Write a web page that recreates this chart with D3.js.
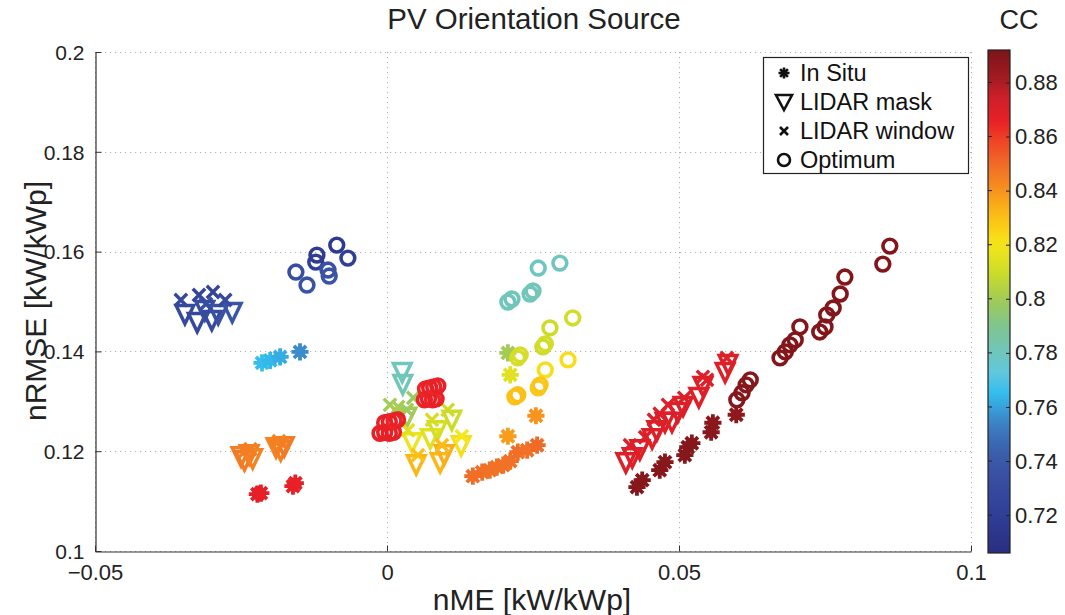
<!DOCTYPE html>
<html>
<head>
<meta charset="utf-8">
<script src="https://cdn.jsdelivr.net/npm/d3@7"></script>
<style>
  html, body { margin: 0; padding: 0; background: #fff; }
  svg { display: block; font-family: "Liberation Sans", Arial, Helvetica, sans-serif; }
</style>
</head>
<body>
<svg id="chart" width="1065" height="615"></svg>
<script>
// Each point: [nME, nRMSE, CC]
const inSitu = [
  [-0.0214, 0.1377, 0.766], [-0.0200, 0.1382, 0.764], [-0.0183, 0.1389, 0.762], [-0.0149, 0.1399, 0.756],
  [-0.0222, 0.1114, 0.866], [-0.0216, 0.1116, 0.866], [-0.0161, 0.1130, 0.865], [-0.0157, 0.1136, 0.865],
  [0.0207, 0.1397, 0.800], [0.0211, 0.1353, 0.815],
  [0.0147, 0.1150, 0.849], [0.0163, 0.1158, 0.849], [0.0176, 0.1162, 0.848], [0.0188, 0.1168, 0.848],
  [0.0199, 0.1172, 0.848], [0.0211, 0.1180, 0.848], [0.0224, 0.1198, 0.849], [0.0240, 0.1202, 0.848],
  [0.0257, 0.1212, 0.850], [0.0207, 0.1230, 0.838], [0.0255, 0.1271, 0.840],
  [0.0428, 0.1128, 0.889], [0.0437, 0.1142, 0.889], [0.0467, 0.1162, 0.889], [0.0476, 0.1178, 0.889],
  [0.0510, 0.1192, 0.889], [0.0515, 0.1208, 0.889], [0.0522, 0.1216, 0.889], [0.0555, 0.1238, 0.888],
  [0.0558, 0.1257, 0.888], [0.0598, 0.1273, 0.887]
];

const lidarMask = [
  [-0.0346, 0.1479, 0.730], [-0.0325, 0.1463, 0.728], [-0.0312, 0.1487, 0.733], [-0.0300, 0.1467, 0.730],
  [-0.0289, 0.1479, 0.735], [-0.0265, 0.1483, 0.738],
  [-0.0250, 0.1194, 0.845], [-0.0244, 0.1186, 0.846], [-0.0236, 0.1198, 0.845], [-0.0230, 0.1190, 0.844],
  [-0.0190, 0.1212, 0.844], [-0.0182, 0.1206, 0.845], [-0.0176, 0.1214, 0.846],
  [0.0026, 0.1363, 0.780], [0.0027, 0.1339, 0.782], [0.0034, 0.1273, 0.800],
  [0.0043, 0.1222, 0.818], [0.0074, 0.1230, 0.815], [0.0086, 0.1246, 0.812], [0.0111, 0.1267, 0.810],
  [0.0127, 0.1216, 0.822],
  [0.0050, 0.1178, 0.832], [0.0091, 0.1182, 0.832], [0.0098, 0.1198, 0.834],
  [0.0409, 0.1182, 0.870], [0.0420, 0.1192, 0.868], [0.0433, 0.1208, 0.869], [0.0454, 0.1230, 0.868],
  [0.0462, 0.1246, 0.870], [0.0476, 0.1263, 0.869], [0.0488, 0.1263, 0.868], [0.0498, 0.1283, 0.870],
  [0.0507, 0.1295, 0.869], [0.0534, 0.1313, 0.868], [0.0541, 0.1335, 0.869], [0.0579, 0.1363, 0.868],
  [0.0584, 0.1379, 0.869]
];

const lidarWindow = [
  [-0.0353, 0.1503, 0.728], [-0.0322, 0.1513, 0.727], [-0.0298, 0.1519, 0.726], [-0.0277, 0.1503, 0.730],
  [-0.0310, 0.1495, 0.732],
  [-0.0243, 0.1200, 0.845], [-0.0234, 0.1204, 0.845], [-0.0185, 0.1220, 0.844], [-0.0178, 0.1216, 0.845],
  [0.0005, 0.1293, 0.800], [0.0019, 0.1289, 0.801], [0.0045, 0.1307, 0.798], [0.0034, 0.1283, 0.799],
  [0.0036, 0.1242, 0.815], [0.0077, 0.1263, 0.812], [0.0104, 0.1283, 0.810], [0.0128, 0.1230, 0.820],
  [0.0053, 0.1192, 0.830], [0.0094, 0.1212, 0.831],
  [0.0416, 0.1212, 0.870], [0.0442, 0.1228, 0.868], [0.0457, 0.1263, 0.869], [0.0467, 0.1275, 0.870],
  [0.0481, 0.1293, 0.868], [0.0509, 0.1307, 0.869], [0.0541, 0.1349, 0.868], [0.0548, 0.1343, 0.869],
  [0.0582, 0.1387, 0.868]
];

const optimum = [
  [-0.0156, 0.1559, 0.733], [-0.0137, 0.1533, 0.737], [-0.0122, 0.1579, 0.722], [-0.0120, 0.1593, 0.718],
  [-0.0101, 0.1563, 0.735], [-0.0099, 0.1551, 0.738], [-0.0086, 0.1613, 0.716], [-0.0067, 0.1587, 0.722],
  [-0.0012, 0.1236, 0.865], [-0.0004, 0.1238, 0.866], [0.0004, 0.1236, 0.865], [0.0011, 0.1238, 0.866],
  [-0.0004, 0.1257, 0.865], [0.0004, 0.1259, 0.865], [0.0012, 0.1261, 0.864], [0.0018, 0.1263, 0.865],
  [0.0064, 0.1303, 0.864], [0.0071, 0.1305, 0.865], [0.0078, 0.1303, 0.864], [0.0084, 0.1305, 0.865],
  [0.0066, 0.1325, 0.864], [0.0073, 0.1327, 0.865], [0.0080, 0.1329, 0.864], [0.0087, 0.1331, 0.865],
  [0.0207, 0.1499, 0.780], [0.0214, 0.1505, 0.781], [0.0245, 0.1515, 0.780], [0.0250, 0.1521, 0.781],
  [0.0259, 0.1567, 0.779], [0.0296, 0.1577, 0.780],
  [0.0279, 0.1447, 0.810], [0.0318, 0.1467, 0.811], [0.0224, 0.1387, 0.812], [0.0228, 0.1393, 0.812],
  [0.0267, 0.1409, 0.810], [0.0271, 0.1415, 0.811],
  [0.0271, 0.1363, 0.822], [0.0310, 0.1383, 0.822],
  [0.0219, 0.1309, 0.830], [0.0224, 0.1313, 0.830], [0.0259, 0.1327, 0.828], [0.0262, 0.1333, 0.829],
  [0.0599, 0.1303, 0.889], [0.0608, 0.1317, 0.889], [0.0615, 0.1333, 0.889], [0.0622, 0.1343, 0.889],
  [0.0673, 0.1387, 0.890], [0.0682, 0.1399, 0.890], [0.0690, 0.1413, 0.890], [0.0699, 0.1423, 0.890],
  [0.0707, 0.1449, 0.890], [0.0741, 0.1439, 0.890], [0.0750, 0.1449, 0.890], [0.0753, 0.1473, 0.890],
  [0.0764, 0.1487, 0.890], [0.0776, 0.1515, 0.890], [0.0784, 0.1549, 0.890], [0.0849, 0.1575, 0.890],
  [0.0861, 0.1611, 0.890]
];

const xTicks = [-0.05, 0, 0.05, 0.1];
const xTickLabels = ["\u22120.05", "0", "0.05", "0.1"];
const yTicks = [0.1, 0.12, 0.14, 0.16, 0.18, 0.2];
const yTickLabels = ["0.1", "0.12", "0.14", "0.16", "0.18", "0.2"];
const ccTicks = [0.72, 0.74, 0.76, 0.78, 0.8, 0.82, 0.84, 0.86, 0.88];
const ccTickLabels = ["0.72", "0.74", "0.76", "0.78", "0.8", "0.82", "0.84", "0.86", "0.88"];
const ccRange = [0.706, 0.892];
const legendNames = ["In Situ", "LIDAR mask", "LIDAR window", "Optimum"];

// colour map stops (CC value -> colour)
const cmapStops = [0.706, 0.72, 0.735, 0.745, 0.755, 0.765, 0.772, 0.78, 0.79, 0.80, 0.81, 0.82, 0.83, 0.84, 0.85, 0.86, 0.865, 0.875, 0.88, 0.892];
const cmapColors = ["#2a2d82", "#2f3e96", "#3a50a2", "#3b62ae", "#3c86c8", "#32bdee", "#5fc7df", "#6fc6bd", "#80c48f", "#a3cb55",
                    "#cddc28", "#f5e71a", "#fcc016", "#f7931e", "#f06a28", "#ee3d26", "#e92027", "#cc1f2a", "#a81c24", "#7b1518"];
const color = d3.scaleLinear().domain(cmapStops).range(cmapColors).interpolate(d3.interpolateRgb).clamp(true);

const svg = d3.select("#chart");
const M = { left: 95, right: 971, top: 52, bottom: 551 };

const x = d3.scaleLinear().domain([-0.05, 0.1]).range([M.left, M.right]);
const y = d3.scaleLinear().domain([0.1, 0.2]).range([M.bottom, M.top]);

// grid
const grid = svg.append("g").attr("stroke", "#b0b0b0").attr("stroke-width", 1).attr("stroke-dasharray", "1.2,3.8");
grid.selectAll("line.gx").data(xTicks).join("line")
  .attr("x1", d => Math.round(x(d)) + 0.5).attr("x2", d => Math.round(x(d)) + 0.5)
  .attr("y1", M.top).attr("y2", M.bottom);
grid.selectAll("line.gy").data(yTicks).join("line")
  .attr("y1", d => Math.round(y(d)) + 0.5).attr("y2", d => Math.round(y(d)) + 0.5)
  .attr("x1", M.left).attr("x2", M.right);

// axes
const xAxis = d3.axisBottom(x).tickValues(xTicks).tickFormat((d, i) => xTickLabels[i]).tickSizeInner(-6).tickSizeOuter(0).tickPadding(10);
const yAxis = d3.axisLeft(y).tickValues(yTicks).tickFormat((d, i) => yTickLabels[i]).tickSizeInner(-6).tickSizeOuter(0).tickPadding(11);

const gx = svg.append("g").attr("transform", `translate(0,${M.bottom + 0.5})`).call(xAxis);
const gy = svg.append("g").attr("transform", `translate(${M.left + 0.5},0)`).call(yAxis);
[gx, gy].forEach(g => {
  g.select(".domain").attr("stroke", "#333").attr("stroke-width", 1.2);
  g.selectAll(".tick line").attr("stroke", "#333");
  g.selectAll(".tick text").attr("fill", "#222").style("font-family", "Liberation Sans, Arial, sans-serif");
});
gx.selectAll(".tick text").attr("dy", "0.85em").style("font-size", "22px");
gy.selectAll(".tick text").attr("dy", "0.35em").style("font-size", "21px");

// marker shapes
function drawAsterisk(g, c) {
  const r = 8.6;
  let p = "";
  for (let k = 0; k < 4; k++) {
    const a = k * Math.PI / 4;
    const dx = r * Math.cos(a), dy = r * Math.sin(a);
    p += `M${-dx},${-dy}L${dx},${dy}`;
  }
  g.append("path").attr("d", p).attr("stroke", c).attr("stroke-width", 3.8).attr("fill", "none");
  g.append("circle").attr("r", 5.6).attr("fill", c);
}
function drawTriangle(g, c) {
  const w = 8.8, h = 7.4;
  g.append("path").attr("d", `M${-w},${-h + 1}L${w},${-h + 1}L0,${h + 4.4}Z`)
    .attr("fill", "none").attr("stroke", c).attr("stroke-width", 3.5).attr("stroke-linejoin", "miter");
}
function drawCross(g, c) {
  const s = 6.2;
  g.append("path").attr("d", `M${-s},${-s}L${s},${s}M${-s},${s}L${s},${-s}`)
    .attr("stroke", c).attr("stroke-width", 3.4).attr("fill", "none");
}
function drawCircle(g, c) {
  g.append("circle").attr("r", 6.9).attr("fill", "none").attr("stroke", c).attr("stroke-width", 3.6);
}
const drawers = [drawAsterisk, drawTriangle, drawCross, drawCircle];
const series = [inSitu, lidarMask, lidarWindow, optimum];

const plot = svg.append("g");
series.forEach((data, si) => {
  plot.append("g").selectAll("g").data(data).join("g")
    .attr("transform", d => `translate(${x(d[0])},${y(d[1])})`)
    .each(function (d) { drawers[si](d3.select(this), color(d[2])); });
});

// legend
const lg = svg.append("g");
lg.append("rect").attr("x", 763.5).attr("y", 57.5).attr("width", 205).attr("height", 116)
  .attr("fill", "#fff").attr("stroke", "#222").attr("stroke-width", 1.2);
legendNames.forEach((name, i) => {
  const cy = 73 + i * 29;
  const g = lg.append("g").attr("transform", `translate(784,${cy})`);
  if (i === 0) {
    const r = 5.5;
    let p = "";
    for (let k = 0; k < 4; k++) {
      const a = k * Math.PI / 4;
      p += `M${-r * Math.cos(a)},${-r * Math.sin(a)}L${r * Math.cos(a)},${r * Math.sin(a)}`;
    }
    g.append("path").attr("d", p).attr("stroke", "#111").attr("stroke-width", 2.6);
    g.append("circle").attr("r", 3).attr("fill", "#111");
  } else if (i === 1) {
    g.append("path").attr("d", "M-8,-7L8,-7L0,8Z").attr("fill", "none").attr("stroke", "#111").attr("stroke-width", 2.6);
  } else if (i === 2) {
    g.append("path").attr("d", "M-4,-4L4,4M-4,4L4,-4").attr("stroke", "#111").attr("stroke-width", 2.6);
  } else {
    g.append("circle").attr("r", 6).attr("fill", "none").attr("stroke", "#111").attr("stroke-width", 2.6);
  }
  lg.append("text").attr("x", 800).attr("y", cy).attr("dy", "0.36em")
    .style("font-size", "23.5px").attr("fill", "#111").text(name);
});

// title and axis labels
svg.append("text").attr("x", 534).attr("y", 29).attr("text-anchor", "middle")
  .style("font-size", "29.5px").attr("fill", "#222").text("PV Orientation Source");
svg.append("text").attr("x", 532).attr("y", 610).attr("text-anchor", "middle")
  .style("font-size", "30px").attr("fill", "#222").text("nME [kW/kWp]");
svg.append("text").attr("transform", "translate(46,301) rotate(-90)").attr("text-anchor", "middle")
  .style("font-size", "30px").attr("fill", "#222").text("nRMSE [kW/kWp]");

// colour bar
const cb = { x: 988, w: 22, top: 50, bottom: 553 };
const cy = d3.scaleLinear().domain(ccRange).range([cb.bottom, cb.top]);
const defs = svg.append("defs");
const grad = defs.append("linearGradient").attr("id", "ccGrad").attr("x1", 0).attr("x2", 0).attr("y1", 1).attr("y2", 0);
d3.range(0, 1.0001, 0.02).forEach(t => {
  const v = ccRange[0] + t * (ccRange[1] - ccRange[0]);
  grad.append("stop").attr("offset", t).attr("stop-color", color(v));
});
svg.append("rect").attr("x", cb.x).attr("y", cb.top).attr("width", cb.w).attr("height", cb.bottom - cb.top)
  .attr("fill", "url(#ccGrad)").attr("stroke", "#222").attr("stroke-width", 1.2);
const cbAxis = d3.axisRight(cy).tickValues(ccTicks).tickFormat((d, i) => ccTickLabels[i]).tickSizeInner(-4).tickSizeOuter(0).tickPadding(8);
const gcb = svg.append("g").attr("transform", `translate(${cb.x + cb.w},0)`).call(cbAxis);
gcb.select(".domain").remove();
gcb.selectAll(".tick line").attr("stroke", "#222");
gcb.selectAll(".tick text").attr("fill", "#222").style("font-size", "22px").style("font-family", "Liberation Sans, Arial, sans-serif").attr("x", 5);
svg.append("g").selectAll("line").data(ccTicks).join("line")
  .attr("x1", cb.x).attr("x2", cb.x + 4).attr("y1", d => cy(d)).attr("y2", d => cy(d)).attr("stroke", "#222");
svg.append("text").attr("x", 1019).attr("y", 29).attr("text-anchor", "middle")
  .style("font-size", "27px").attr("fill", "#222").text("CC");
</script>
</body>
</html>
